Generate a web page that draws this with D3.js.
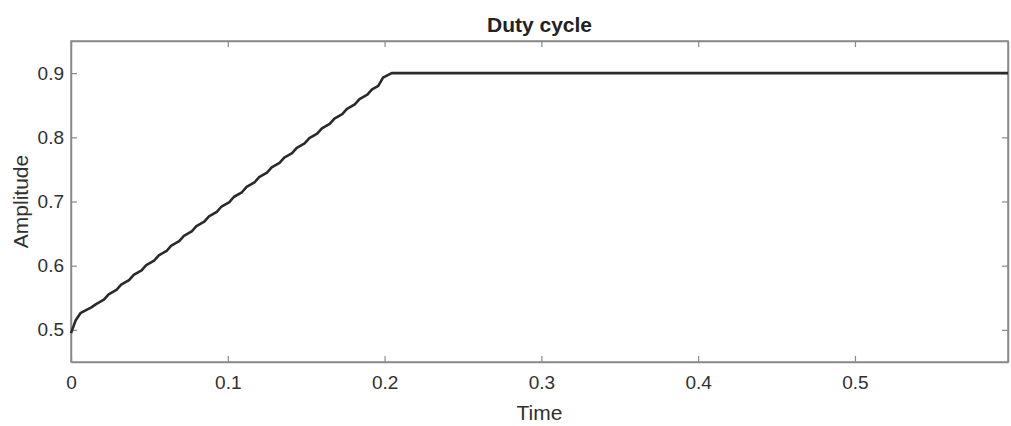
<!DOCTYPE html>
<html>
<head>
<meta charset="utf-8">
<script src="https://cdn.jsdelivr.net/npm/d3@7"></script>
<style>
  body { margin: 0; background: #fff; }
  svg { display: block; font-family: "Liberation Sans", Arial, sans-serif; }
</style>
</head>
<body>
<svg id="chart" width="1011" height="426"></svg>
<script>
// ---- data ----
const title = "Duty cycle";
const xLabel = "Time";
const yLabel = "Amplitude";
const xTicks = [0, 0.1, 0.2, 0.3, 0.4, 0.5];
const xTickLabels = ["0", "0.1", "0.2", "0.3", "0.4", "0.5"];
const yTicks = [0.5, 0.6, 0.7, 0.8, 0.9];
const yTickLabels = ["0.5", "0.6", "0.7", "0.8", "0.9"];
const xDomain = [0, 0.5976];
const yDomain = [0.45, 0.95];

const time = [
  0, 0.003, 0.006, 0.009, 0.013,
  0.016, 0.021, 0.024, 0.029, 0.032, 0.037, 0.040, 0.045,
  0.048, 0.053, 0.056, 0.061, 0.064, 0.069, 0.072, 0.077,
  0.080, 0.085, 0.088, 0.093, 0.096, 0.101, 0.104, 0.109,
  0.112, 0.117, 0.120, 0.125, 0.128, 0.133, 0.136, 0.141,
  0.144, 0.149, 0.152, 0.157, 0.160, 0.165, 0.168, 0.173,
  0.176, 0.181, 0.184, 0.189, 0.192, 0.196, 0.199, 0.2045, 0.5976
];
const amplitude = [
  0.495, 0.515, 0.526, 0.530, 0.535,
  0.5402, 0.5472, 0.5554, 0.5624, 0.5706, 0.5776, 0.5858, 0.5928,
  0.601, 0.608, 0.6162, 0.6232, 0.6314, 0.6384, 0.6466, 0.6536,
  0.6618, 0.6688, 0.677, 0.684, 0.6922, 0.6992, 0.7074, 0.7144,
  0.7226, 0.7296, 0.7378, 0.7448, 0.753, 0.760, 0.7682, 0.7752,
  0.7834, 0.7904, 0.7986, 0.8056, 0.8138, 0.8208, 0.829, 0.836,
  0.8442, 0.8512, 0.8594, 0.8664, 0.8746, 0.880, 0.893, 0.9, 0.9
];

// ---- layout ----
const L = 71, R = 1008, T = 41, B = 362;
const svg = d3.select("#chart");
const x = d3.scaleLinear().domain(xDomain).range([L, R]);
const y = d3.scaleLinear().domain(yDomain).range([B, T]);

const axisColor = "#8a8a8a";
const textColor = "#303030";
const fontFam = '"Liberation Sans", Arial, sans-serif';

// box
svg.append("rect")
  .attr("x", L).attr("y", T).attr("width", R - L).attr("height", B - T)
  .attr("fill", "#fff").attr("stroke", axisColor).attr("stroke-width", 1.5);

// axes (ticks inward)
const fmtX = (d, i) => xTickLabels[i];
const fmtY = (d, i) => yTickLabels[i];

const gx = svg.append("g").attr("transform", `translate(0,${B})`)
  .call(d3.axisBottom(x).tickValues(xTicks).tickFormat(fmtX).tickSizeInner(-6).tickSizeOuter(0).tickPadding(14));
const gxt = svg.append("g").attr("transform", `translate(0,${T})`)
  .call(d3.axisTop(x).tickValues(xTicks).tickFormat("").tickSizeInner(-6).tickSizeOuter(0));
const gy = svg.append("g").attr("transform", `translate(${L},0)`)
  .call(d3.axisLeft(y).tickValues(yTicks).tickFormat(fmtY).tickSizeInner(-6).tickSizeOuter(0).tickPadding(7));
const gyr = svg.append("g").attr("transform", `translate(${R},0)`)
  .call(d3.axisRight(y).tickValues(yTicks).tickFormat("").tickSizeInner(-6).tickSizeOuter(0));

[gx, gxt, gy, gyr].forEach(g => {
  g.select(".domain").attr("stroke", axisColor).attr("stroke-width", 1.5);
  g.selectAll(".tick line").attr("stroke", axisColor).attr("stroke-width", 1.2);
  g.selectAll(".tick text").attr("fill", textColor)
    .style("font-size", "19px").style("font-family", fontFam);
});

// line
const line = d3.line().x((d, i) => x(time[i])).y((d, i) => y(amplitude[i]));
svg.append("path")
  .datum(amplitude)
  .attr("d", line)
  .attr("fill", "none")
  .attr("stroke", "#2a2a2a")
  .attr("stroke-width", 2.6)
  .attr("stroke-linejoin", "round");

// title & labels
svg.append("text")
  .attr("x", (L + R) / 2).attr("y", 32)
  .attr("text-anchor", "middle")
  .attr("fill", "#222")
  .style("font-size", "21px").style("font-weight", "bold").style("font-family", fontFam)
  .text(title);

svg.append("text")
  .attr("x", (L + R) / 2).attr("y", 420)
  .attr("text-anchor", "middle")
  .attr("fill", textColor)
  .style("font-size", "21px").style("font-family", fontFam)
  .text(xLabel);

svg.append("text")
  .attr("transform", `translate(28,${(T + B) / 2}) rotate(-90)`)
  .attr("text-anchor", "middle")
  .attr("fill", textColor)
  .style("font-size", "21px").style("font-family", fontFam)
  .text(yLabel);
</script>
</body>
</html>
